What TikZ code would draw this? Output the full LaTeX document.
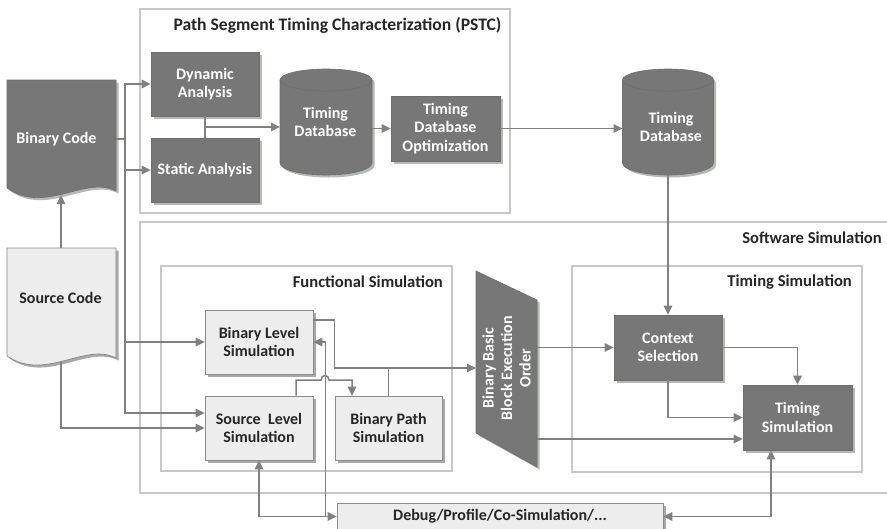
\documentclass[tikz,border=0pt]{standalone}
\usepackage{fontspec}
\setmainfont{Carlito}
\usetikzlibrary{arrows.meta,shadows,calc}
\definecolor{dkfill}{HTML}{777777}
\definecolor{dkline}{HTML}{6E6E6E}
\definecolor{dkshadow}{HTML}{B3BBB3}
\definecolor{ltfill}{HTML}{EDEDED}
\definecolor{ltline}{HTML}{8C8C8C}
\definecolor{ltshadow}{HTML}{A8A8A8}
\definecolor{conncol}{HTML}{808080}
\definecolor{framecol}{HTML}{C8C8C8}
\definecolor{txtcol}{HTML}{262626}
\begin{document}
\begin{tikzpicture}[x=1pt,y=-1pt,
  font=\fontsize{16}{18.5}\selectfont\bfseries,
  dkshad/.style={drop shadow={opacity=1, fill=dkshadow, shadow xshift=2.5pt, shadow yshift=-2.5pt}},
  ltshad/.style={drop shadow={opacity=1, fill=ltshadow, shadow xshift=2.5pt, shadow yshift=-2.5pt}},
  darkbox/.style={draw=dkline, line width=0.6pt, fill=dkfill, text=white, align=center, inner sep=0pt, dkshad},
  lightbox/.style={draw=ltline, line width=0.8pt, fill=ltfill, text=txtcol, align=center, inner sep=0pt, ltshad},
  darkshape/.style={draw=dkline, line width=0.6pt, fill=dkfill, dkshad},
  lightshape/.style={draw=ltline, line width=0.8pt, fill=ltfill, ltshad},
  cn/.style={draw=conncol, line width=1.5pt},
  ar/.style={cn, -{Triangle[length=9pt,width=8.5pt]}},
  ar2/.style={cn, {Triangle[length=9pt,width=8.5pt]}-{Triangle[length=9pt,width=8.5pt]}},
  fr/.style={draw=framecol, line width=1.2pt},
  ttl/.style={text=txtcol, inner sep=0pt, font=\fontsize{16.6}{19}\selectfont\bfseries},
  wtxt/.style={text=white, align=center, inner sep=0pt},
  dtxt/.style={text=txtcol, align=center, inner sep=0pt},
  ghost/.style={inner sep=0pt, outer sep=0pt}
]
\useasboundingbox (0,0) rectangle (887,528);
\clip (0,0) rectangle (887,528);

% frames
\draw[fr] (140,9) rectangle (510,213);
\draw[fr] (140,222) rectangle (895,493);
\draw[fr] (161,266) rectangle (452,471);
\draw[fr] (572,266) rectangle (862,472);
\node[ttl, font=\fontsize{17.6}{20}\selectfont\bfseries] (tpstc) at (337.5,25) {Path Segment Timing Characterization (PSTC)};
\node[ttl, anchor=east] (tsw) at (882,238) {Software Simulation};
\node[ttl, anchor=east] (tfn) at (443,282) {Functional Simulation};
\node[ttl, anchor=east] (ttm) at (852,282) {Timing Simulation};

% documents
\path[darkshape] (7,80) -- (116,80) -- (116,191) .. controls (85,175) and (45,215) .. (7,188) -- cycle;
\node[wtxt] (bin) at (56.5,139) {Binary Code};
\path[lightshape] (7,248) -- (116,248) -- (116,358) .. controls (85,342) and (45,382) .. (7,356) -- cycle;
\node[dtxt] (src) at (60.5,298) {Source Code};
\coordinate (binR) at (116,139);
\coordinate (binB) at (61,195);
\coordinate (srcT) at (61,248);
\coordinate (srcB) at (61,362);
\coordinate (bus) at (125,139);

% cylinders
\path[darkshape] (280,80) arc[start angle=180,end angle=0,x radius=46pt,y radius=11pt] -- (372,163) arc[start angle=0,end angle=-180,x radius=46pt,y radius=12pt] -- cycle;
\draw[dkline, line width=0.6pt] (280,80) arc[start angle=180,end angle=360,x radius=46pt,y radius=11pt];
\node[ghost, minimum width=92pt, minimum height=106pt] (db1) at (326,122) {};
\node[wtxt] (db1t) at (325.5,122) {Timing\\Database};

\path[darkshape] (622.5,80) arc[start angle=180,end angle=0,x radius=45.5pt,y radius=11pt] -- (713.5,163) arc[start angle=0,end angle=-180,x radius=45.5pt,y radius=12pt] -- cycle;
\draw[dkline, line width=0.6pt] (622.5,80) arc[start angle=180,end angle=360,x radius=45.5pt,y radius=11pt];
\node[ghost, minimum width=91pt, minimum height=106pt] (db2) at (668,122) {};
\node[wtxt] (db2t) at (671,127) {Timing\\Database};

% boxes
\node[darkbox, minimum width=108pt, minimum height=64pt] (dyn) at (205,84) {Dynamic\\Analysis};
\node[darkbox, minimum width=108pt, minimum height=64pt] (sta) at (205,170) {Static Analysis};
\node[darkbox, minimum width=109pt, minimum height=65pt] (tdo) at (445.5,128.5) {Timing\\Database\\Optimization};
\node[lightbox, minimum width=108pt, minimum height=64pt] (bls) at (259,342) {Binary Level\\Simulation};
\node[lightbox, minimum width=108pt, minimum height=64pt] (sls) at (259,428) {Source~ Level\\Simulation};
\node[lightbox, minimum width=107pt, minimum height=64pt] (bps) at (388.5,428) {Binary Path\\Simulation};
\node[darkbox, minimum width=108pt, minimum height=65pt] (ctx) at (668,347.5) {Context\\Selection};
\node[darkbox, minimum width=109pt, minimum height=65pt] (tsm) at (797.5,417.5) {Timing\\Simulation};
\node[lightbox, minimum width=326pt, minimum height=27pt] (dbg) at (500,516.5) {Debug/Profile/Co-Simulation/...};

% parallelogram
\path[darkshape] (476,271) -- (537,300) -- (537,467) -- (476,433) -- cycle;
\node[wtxt, rotate=90] (bbo) at (506.5,368) {Binary Basic\\Block Execution\\Order};
\coordinate (trL) at (476,368);
\coordinate (trR) at (537,400);

% connectors
\draw[cn] (binR) -- (bus);
\draw[ar] (bus) |- (dyn.west);
\draw[ar] (bus) |- (sta.west);
\draw[ar] (bus) |- (bls.west);
\draw[ar] (bus) |- ([yshift=15pt]sls.west);
\draw[ar] (srcT) -- (binB);
\draw[ar] (srcB) |- (sls.west);

\draw[cn] (dyn.south) -- (sta.north);
\coordinate (m1) at ($(dyn.south)!0.5!(sta.north)$);
\draw[ar] (m1) -- (m1 -| db1.west);
\draw[ar] (db1.east |- tdo.west) -- (tdo.west);
\draw[ar] (tdo.east) -- (tdo.east -| db2.west);
\draw[ar] (db2.south) -- (ctx.north);

\draw[ar] ([yshift=22pt]bls.east) -- ++(21,0) |- (trL);
\draw[cn] (bps.north) -- (bps.north |- trL);
\draw[ar] ([xshift=37pt]sls.north) |- (321,380) .. controls (321,374) and (329,374) .. (329,380) -| ([xshift=-36.5pt]bps.north);

\coordinate (dbx) at ([xshift=12pt]bls.east);
\draw[ar2] (sls.south) |- (dbg.west);
\draw[ar] (dbx |- dbg.west) |- (bls.east);
\draw[ar2] ([xshift=-26.5pt]tsm.south) |- (dbg.east);

\coordinate (tsmL) at ([yshift=-21.5pt]tsm.west);
\draw[ar] (trR |- ctx.west) -- (ctx.west);
\draw[ar] (trR |- tsmL) -- (tsmL);
\draw[ar] (ctx.east) -| (tsm.north);
\draw[ar] (ctx.south) |- (tsm.west);
\end{tikzpicture}
\end{document}
